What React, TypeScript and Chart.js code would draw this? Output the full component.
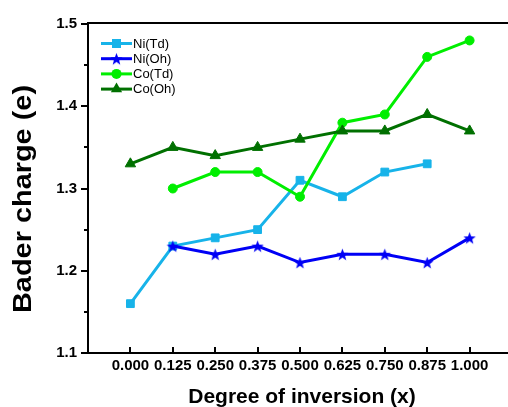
import React, { useEffect, useRef } from "react";
import { Chart, registerables } from "chart.js";

Chart.register(...registerables);

const xValues = [0, 0.125, 0.25, 0.375, 0.5, 0.625, 0.75, 0.875, 1.0];
const niTd = [1.16, 1.23, 1.24, 1.25, 1.31, 1.29, 1.32, 1.33, null];
const niOh = [null, 1.23, 1.22, 1.23, 1.21, 1.22, 1.22, 1.21, 1.24];
const coTd = [null, 1.3, 1.32, 1.32, 1.29, 1.38, 1.39, 1.46, 1.48];
const coOh = [1.33, 1.35, 1.34, 1.35, 1.36, 1.37, 1.37, 1.39, 1.37];
const seriesNames = ["Ni(Td)", "Ni(Oh)", "Co(Td)", "Co(Oh)"];
const yTickValues = [1.1, 1.2, 1.3, 1.4, 1.5];
const yMinorTickValues = [1.15, 1.25, 1.35, 1.45];
const xTitle = "Degree of inversion (x)";
const yTitle = "Bader charge (e)";

const FONT = '"Liberation Sans", Arial, Helvetica, sans-serif';
const COLORS = ["#17b3e9", "#0000f5", "#00ee00", "#007000"];
const STYLES = ["rect", "star", "circle", "triangle"];
const RADII = [5.5, 6, 4.5, 6];

function makeStar(color: string, outer: number, inner: number) {
  const size = Math.ceil(outer * 2) + 2;
  const c = document.createElement("canvas");
  c.width = size;
  c.height = size;
  const ctx = c.getContext("2d")!;
  const cx = size / 2;
  const cy = size / 2 + outer * 0.1;
  ctx.beginPath();
  for (let i = 0; i < 10; i++) {
    const r = i % 2 === 0 ? outer : inner;
    const a = -Math.PI / 2 + (i * Math.PI) / 5;
    ctx.lineTo(cx + r * Math.cos(a), cy + r * Math.sin(a));
  }
  ctx.closePath();
  ctx.fillStyle = color;
  ctx.fill();
  return c;
}

function toPoints(vals: (number | null)[]) {
  const pts: { x: number; y: number }[] = [];
  vals.forEach((v, i) => {
    if (v !== null) pts.push({ x: xValues[i], y: v });
  });
  return pts;
}

function drawMarker(ctx: CanvasRenderingContext2D, idx: number, x: number, y: number, star: HTMLCanvasElement) {
  const color = COLORS[idx];
  ctx.fillStyle = color;
  ctx.strokeStyle = color;
  ctx.lineWidth = 1;
  const style = STYLES[idx];
  if (style === "rect") {
    const s = 4.5;
    ctx.fillRect(x - s, y - s, 2 * s, 2 * s);
  } else if (style === "circle") {
    ctx.beginPath();
    ctx.arc(x, y, 5, 0, Math.PI * 2);
    ctx.fill();
  } else if (style === "triangle") {
    const r = 6.5;
    ctx.beginPath();
    for (let k = 0; k < 3; k++) {
      const a = -Math.PI / 2 + (k * 2 * Math.PI) / 3;
      ctx.lineTo(x + r * Math.cos(a), y + r * Math.sin(a));
    }
    ctx.closePath();
    ctx.fill();
  } else {
    ctx.drawImage(star, x - star.width / 2, y - star.height / 2);
  }
}

export default function App() {
  const ref = useRef<HTMLCanvasElement>(null);

  useEffect(() => {
    const canvas = ref.current!;
    const star = makeStar(COLORS[1], 6.5, 2.7);
    const seriesData = [niTd, niOh, coTd, coOh];

    const decorPlugin = {
      id: "decor",
      beforeDatasetsDraw(chart: any) {
        const { ctx, chartArea: a, scales } = chart;
        const ys = scales.y;
        const xs = scales.x;
        ctx.save();
        ctx.strokeStyle = "#000";
        ctx.lineWidth = 2;
        ctx.lineCap = "butt";
        const line = (x1: number, y1: number, x2: number, y2: number) => {
          ctx.beginPath();
          ctx.moveTo(x1, y1);
          ctx.lineTo(x2, y2);
          ctx.stroke();
        };
        line(a.left, a.top - 1, a.left, a.bottom + 1);
        line(a.left - 1, a.top - 1, chart.width, a.top - 1);
        line(a.left - 1, a.bottom, chart.width, a.bottom);
        yTickValues.forEach((v) => {
          const py = Math.round(ys.getPixelForValue(v));
          line(a.left - 7, py, a.left, py);
        });
        yMinorTickValues.forEach((v) => {
          const py = Math.round(ys.getPixelForValue(v));
          line(a.left - 4, py, a.left, py);
        });
        xValues.forEach((v) => {
          const px = Math.round(xs.getPixelForValue(v));
          line(px, a.bottom, px, a.bottom - 6);
        });
        ctx.restore();
      },
      afterDraw(chart: any) {
        const { ctx } = chart;
        ctx.save();
        // legend
        const lx1 = 101;
        const lx2 = 132;
        seriesNames.forEach((name, i) => {
          const y = 43.5 + i * 15.2;
          ctx.strokeStyle = COLORS[i];
          ctx.lineWidth = 3;
          ctx.beginPath();
          ctx.moveTo(lx1, y);
          ctx.lineTo(lx2, y);
          ctx.stroke();
          drawMarker(ctx, i, (lx1 + lx2) / 2, y, star);
          ctx.fillStyle = "#000";
          ctx.font = `13px ${FONT}`;
          ctx.textAlign = "left";
          ctx.textBaseline = "middle";
          ctx.fillText(name, 133, y + 0.5);
        });
        // x title
        ctx.fillStyle = "#000";
        ctx.font = `bold 21px ${FONT}`;
        ctx.textAlign = "center";
        ctx.textBaseline = "alphabetic";
        ctx.fillText(xTitle, 302, 403);
        // y title
        ctx.save();
        ctx.translate(31, 199);
        ctx.rotate(-Math.PI / 2);
        ctx.font = `bold 26px ${FONT}`;
        const w = ctx.measureText(yTitle).width;
        const sx = 228 / w;
        ctx.scale(sx, 1);
        ctx.textAlign = "center";
        ctx.textBaseline = "alphabetic";
        ctx.fillText(yTitle, 0, 0);
        ctx.restore();
        ctx.restore();
      },
    };

    const chart = new Chart(canvas, {
      type: "line",
      data: {
        datasets: seriesData.map((vals, i) => ({
          label: seriesNames[i],
          data: toPoints(vals),
          borderColor: COLORS[i],
          backgroundColor: COLORS[i],
          borderWidth: 3,
          pointStyle: i === 1 ? star : STYLES[i],
          pointRadius: RADII[i],
          pointBackgroundColor: COLORS[i],
          pointBorderColor: COLORS[i],
          pointBorderWidth: 1,
          tension: 0,
          fill: false,
          order: 3 - i,
        })) as any,
      },
      options: {
        animation: false,
        responsive: false,
        maintainAspectRatio: false,
        devicePixelRatio: 1,
        layout: { padding: { top: 24, left: 0, right: 0, bottom: 0 } },
        plugins: {
          legend: { display: false },
          tooltip: { enabled: false },
          title: { display: false },
        },
        scales: {
          x: {
            type: "linear",
            min: -0.125,
            max: 1.125,
            grid: { display: false, drawTicks: false },
            border: { display: false },
            afterBuildTicks: (s: any) => {
              s.ticks = xValues.map((v) => ({ value: v }));
            },
            afterFit: (s: any) => {
              s.height = 54;
            },
            ticks: {
              autoSkip: false,
              maxRotation: 0,
              minRotation: 0,
              padding: 4,
              color: "#000",
              font: { family: FONT, size: 15, weight: "bold" },
              callback: (v: any) => Number(v).toFixed(3),
            },
          },
          y: {
            type: "linear",
            min: 1.1,
            max: 1.5,
            grid: { display: false, drawTicks: false },
            border: { display: false },
            afterBuildTicks: (s: any) => {
              s.ticks = yTickValues.map((v) => ({ value: v }));
            },
            afterFit: (s: any) => {
              s.width = 88;
            },
            ticks: {
              padding: 11,
              color: "#000",
              font: { family: FONT, size: 15, weight: "bold" },
              callback: (v: any) => Number(v).toFixed(1),
            },
          },
        },
      } as any,
      plugins: [decorPlugin],
    });
    return () => chart.destroy();
  }, []);

  return (
    <div
      style={{
        position: "fixed",
        left: 0,
        top: 0,
        width: 508,
        height: 407,
        overflow: "hidden",
        background: "#fff",
      }}
    >
      <canvas ref={ref} width={519} height={407} style={{ display: "block", width: 519, height: 407 }} />
    </div>
  );
}
